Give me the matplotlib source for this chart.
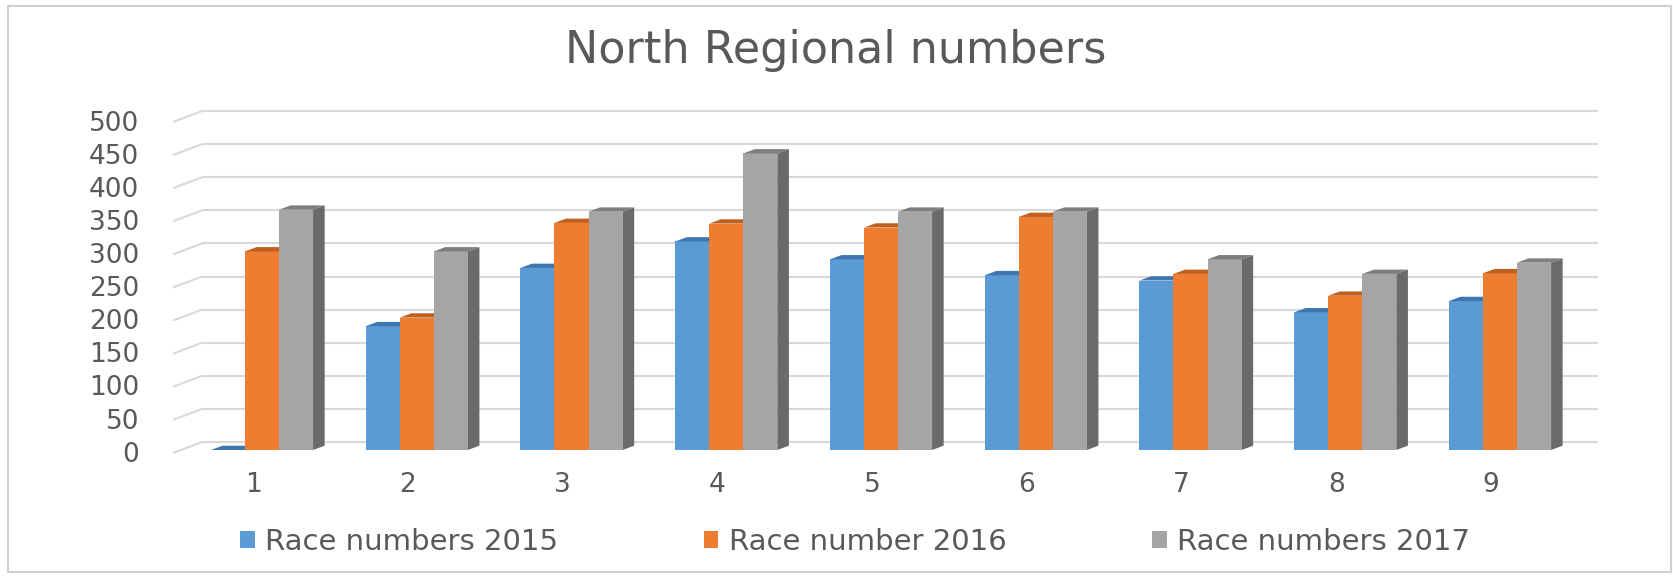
import matplotlib
matplotlib.use('Agg')
import matplotlib.pyplot as plt
from matplotlib.patches import Polygon, Rectangle, Patch

# ---------------- data ----------------
categories = ['1', '2', '3', '4', '5', '6', '7', '8', '9']
race_2015 = [0, 187, 275, 315, 288, 264, 256, 208, 225]
race_2016 = [300, 200, 343, 342, 336, 352, 266, 233, 267]
race_2017 = [363, 300, 360, 448, 360, 360, 288, 266, 283]
series_labels = ['Race numbers 2015', 'Race number 2016', 'Race numbers 2017']
y_ticks = [0, 50, 100, 150, 200, 250, 300, 350, 400, 450, 500]
title = 'North Regional numbers'

# ---------------- styling ----------------
front_colors = ['#5B9BD5', '#ED7D31', '#A5A5A5']
top_colors = ['#3E77B0', '#C15F1E', '#7E7E7E']
side_colors = ['#3E6E9E', '#A9561C', '#6A6A6A']
text_color = '#595959'
grid_color = '#D9D9D9'

W, H = 1674, 577
fig = plt.figure(figsize=(W / 100, H / 100), dpi=100)
fig.patch.set_facecolor('white')
ax = fig.add_axes([0, 0, 1, 1])

# map data space onto the canvas
x0px, gpx = 262.0, 154.75      # first group centre, group spacing (px)
base_px, ppu = 450.0, 0.662     # bar base row, pixels per value unit
ax.set_xlim(-x0px / gpx, (W - x0px) / gpx)
ax.set_ylim((base_px - H) / ppu, base_px / ppu)
ax.axis('off')

# 3D offsets
back_dy = 12.0       # back wall lift (value units)
front_dy = -4.5      # front floor edge drop
wall_x0 = (202 - x0px) / gpx
wall_x1 = (1598 - x0px) / gpx
floor_x0 = (173 - x0px) / gpx
bar_w = 0.22
dx = 0.075
dy = 6.5

# gridlines (back wall + floor slant)
for v in y_ticks:
    ax.plot([wall_x0, wall_x1], [v + back_dy, v + back_dy], color=grid_color,
            lw=1.5, zorder=1, solid_capstyle='butt')
    ax.plot([floor_x0, wall_x0], [v + front_dy, v + back_dy], color=grid_color,
            lw=1.5, zorder=1, solid_capstyle='butt')
    ax.text((139 - x0px) / gpx, v - 7, str(v), ha='right', va='center',
            fontsize=19, color=text_color, family='DejaVu Sans')

# bars
series = [race_2015, race_2016, race_2017]
xs = list(range(len(categories)))
offsets = [-bar_w, 0.0, bar_w]
for s, (vals, off) in enumerate(zip(series, offsets)):
    z = 3 + s * 3
    bx = [x + off for x in xs]
    ax.bar(bx, vals, width=bar_w, color=front_colors[s], edgecolor='none',
           zorder=z + 1)
    for x, v in zip(bx, vals):
        l, r = x - bar_w / 2, x + bar_w / 2
        top = Polygon([(l, v), (r, v), (r + dx, v + dy), (l + dx, v + dy)],
                      closed=True, facecolor=top_colors[s], edgecolor='none',
                      zorder=z + 2)
        side = Polygon([(r, 0), (r + dx, dy), (r + dx, v + dy), (r, v)],
                       closed=True, facecolor=side_colors[s], edgecolor='none',
                       zorder=z)
        ax.add_patch(side)
        ax.add_patch(top)

# category labels
for x, c in zip(xs, categories):
    ax.text(x - 0.058, (base_px - 485) / ppu, c, ha='center', va='center',
            fontsize=19, color=text_color, family='DejaVu Sans')

# title
fig.text(836 / W, 1 - 50 / H, title, ha='center', va='center', fontsize=32,
         color=text_color, family='DejaVu Sans')

# legend
handles = [Patch(facecolor=c, edgecolor='none') for c in front_colors]
fig.legend(handles, series_labels, loc='center', ncol=3,
           bbox_to_anchor=(855 / W, 1 - 542 / H), frameon=False,
           prop={'family': 'DejaVu Sans', 'size': 21}, labelcolor=text_color,
           handlelength=0.5, handleheight=0.5, handletextpad=0.35,
           columnspacing=5.0)

# outer frame
fig.add_artist(Rectangle((8 / W, 1 - 572 / H), (1671 - 8) / W, (572 - 6) / H,
                         transform=fig.transFigure, fill=False,
                         edgecolor='#D0D0D0', lw=1.5))

fig.savefig('out.png', dpi=100, facecolor='white')
